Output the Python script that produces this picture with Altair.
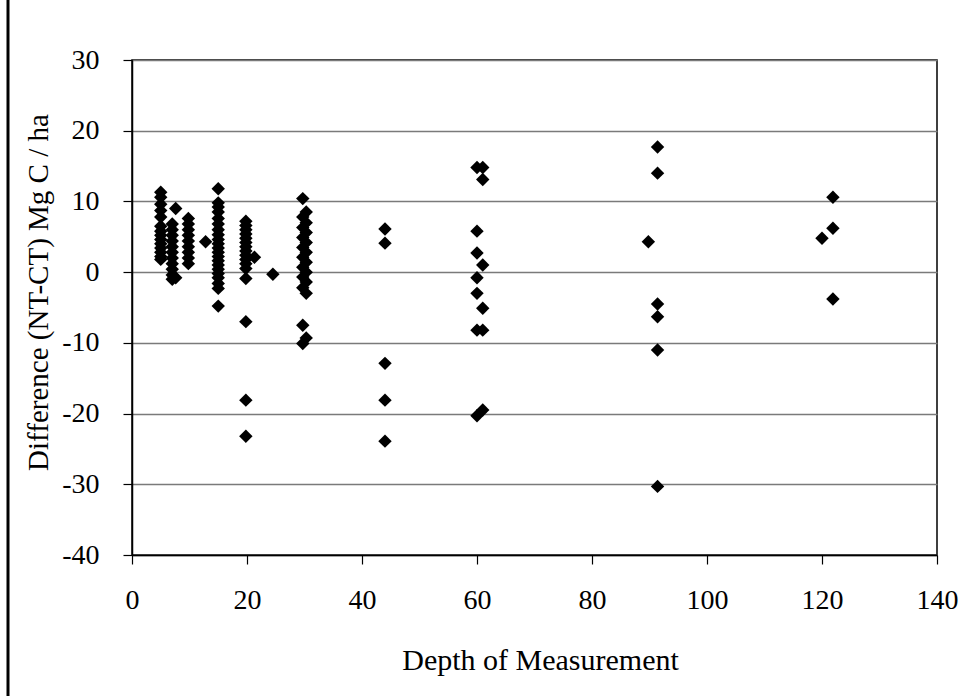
import altair as alt
import pandas as pd

# depth (cm) and difference (NT-CT, Mg C/ha)
d5 = [11.3, 10.6, 9.6, 8.7, 7.8, 6.5, 5.8, 5.2, 4.6, 4.0, 3.4, 2.8, 2.2, 1.8]
d7 = [6.8, 6.0, 5.2, 4.4, 3.6, 2.8, 2.0, 1.2, 0.4, -0.4, -1.0]
d75 = [9.0, -0.8]
d10 = [7.6, 6.8, 6.0, 5.2, 4.4, 3.6, 2.8, 2.0, 1.2]
d127 = [4.3]
d15 = [11.8, 9.8, 9.2, 8.5, 7.6, 6.8, 6.0, 5.3, 4.6, 4.0, 3.4, 2.8, 2.2,
       1.6, 1.0, 0.4, -0.2, -0.8, -1.6, -2.3, -4.8]
d20 = [7.2, 6.6, 6.0, 5.4, 4.8, 4.2, 3.6, 3.0, 2.4, 1.8, 1.2, 0.5, -0.9,
       -7.0, -18.1, -23.2]
d21 = [2.1]
d25 = [-0.3]
d30a = [10.4, 7.8, 6.3, 4.9, 3.5, 2.1, 0.7, -0.7, -2.2, -7.5, -10.1]
d30b = [8.5, 7.0, 5.6, 4.2, 2.8, 1.4, 0.0, -1.4, -3.0, -9.3]
d44 = [6.1, 4.1, -12.9, -18.1, -23.9]
d60 = [14.8, 5.8, 2.7, -0.8, -3.0, -8.2, -20.3]
d61 = [14.8, 13.1, 1.0, -5.1, -8.2, -19.5]
d90 = [4.3]
d91 = [17.7, 14.0, -4.5, -6.3, -11.0, -30.3]
d120 = [4.8]
d122 = [10.6, 6.2, -3.8]

groups = [
    (5.0, d5), (7.0, d7), (7.6, d75), (9.8, d10), (12.8, d127), (15.0, d15),
    (19.8, d20), (21.3, d21), (24.5, d25), (29.7, d30a), (30.3, d30b),
    (44.0, d44), (60.0, d60), (61.0, d61), (89.8, d90), (91.4, d91),
    (120.0, d120), (121.9, d122),
]

rows = []
for depth, vals in groups:
    for v in vals:
        rows.append({"depth": depth, "diff": v})
df = pd.DataFrame(rows)

FONT = "Liberation Serif"

points = alt.Chart(df).mark_point(
    shape="diamond", filled=True, color="black", opacity=1, size=180
).encode(
    x=alt.X("depth:Q",
            scale=alt.Scale(domain=[0, 140], nice=False, zero=False),
            axis=alt.Axis(values=[0, 20, 40, 60, 80, 100, 120, 140],
                          grid=False, title="Depth of Measurement",
                          titleX=408, titleY=105, titleBaseline="middle",
                          titleFontSize=30, titleFontWeight="normal",
                          labelFontSize=28, tickSize=9, labelPadding=22,
                          labelFont=FONT, titleFont=FONT,
                          labelExpr="'' + datum.value")),
    y=alt.Y("diff:Q",
            scale=alt.Scale(domain=[-40, 30], nice=False, zero=False),
            axis=alt.Axis(values=[-40, -30, -20, -10, 0, 10, 20, 30],
                          grid=True, title="Difference (NT-CT) Mg C / ha",
                          titleX=-94, titleY=232, titleBaseline="middle",
                          titleAlign="center", titleAngle=-90,
                          titleFontSize=29, titleFontWeight="normal",
                          labelFontSize=28, tickSize=9, labelPadding=24,
                          labelFont=FONT, titleFont=FONT,
                          labelExpr="'' + datum.value")),
)

edge = alt.Chart(pd.DataFrame({"a": [0]})).mark_rule(
    color="black", strokeWidth=3
).encode(x=alt.value(-124), y=alt.value(-60), y2=alt.value(636))

chart = alt.layer(points, edge).properties(
    width=805, height=495,
    background="white",
    autosize=alt.AutoSizeParams(type="none"),
    padding={"left": 132, "top": 60, "right": 29, "bottom": 141},
).configure_view(
    stroke="black", strokeWidth=1.5
).configure_axis(
    labelFont=FONT, titleFont=FONT, labelColor="black", titleColor="black",
    domainColor="black", domainWidth=1.5, tickColor="black", tickWidth=1.2,
    gridColor="#7a7a7a", gridWidth=1.3, labelBound=False, labelFlush=False,
    labelOverlap=False
)

chart.save("out.html", embed_options={"renderer": "svg", "actions": False})
